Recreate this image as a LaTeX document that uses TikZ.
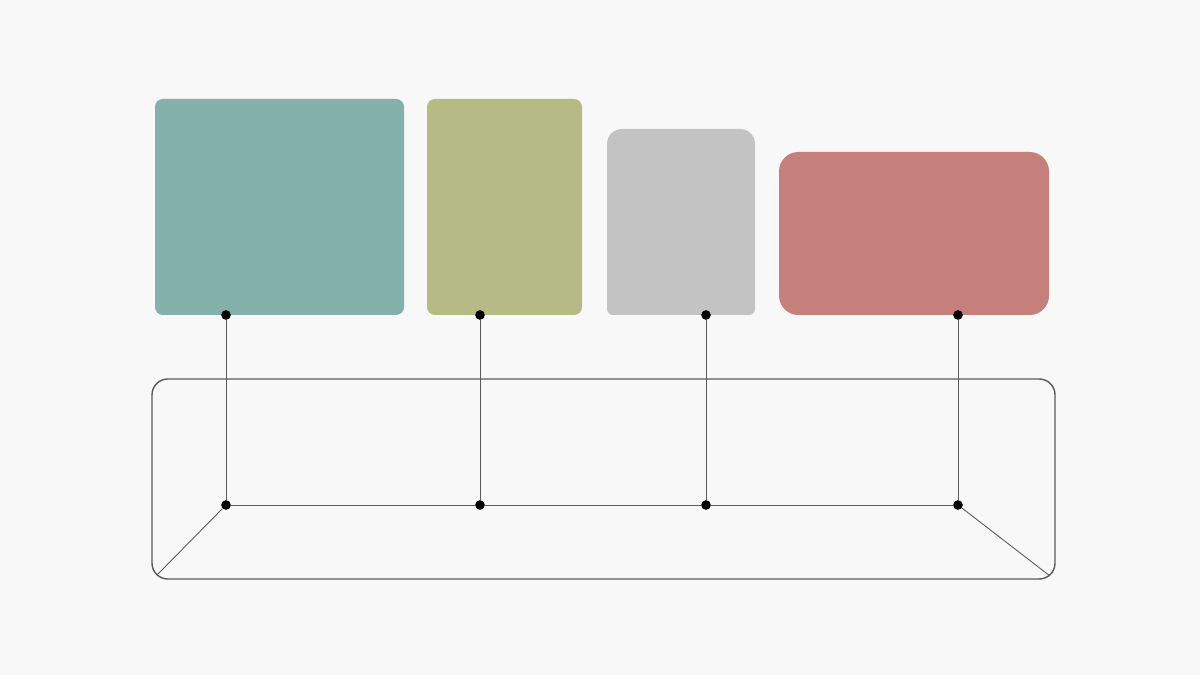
\documentclass[tikz,border=0pt]{standalone}
\usepackage{tikz}
\definecolor{bgcol}{HTML}{F8F8F8}
\definecolor{tealbox}{HTML}{85B1AB}
\definecolor{olivebox}{HTML}{B6BB86}
\definecolor{graybox}{HTML}{C3C3C3}
\definecolor{redbox}{HTML}{C6807C}
\definecolor{wire}{HTML}{5A5A5A}
\begin{document}
\begin{tikzpicture}[x=0.02cm,y=-0.02cm]
\tikzstyle{dot}=[circle,fill=black,inner sep=0pt,minimum size=5.5pt]
\tikzstyle{link}=[draw=wire,line width=0.5pt]
\fill [bgcol] (0,0) rectangle (1200,675);
\useasboundingbox (0,0) rectangle (1200,675);
\fill [tealbox,rounded corners=4.5pt] (155,99) rectangle (404,315);
\fill [olivebox,rounded corners=4.5pt] (427,99) rectangle (582,315);
\fill [graybox] (607,222) [rounded corners=8.5pt] -- (607,129) -- (755,129) [rounded corners=3.5pt] -- (755,315) -- (607,315) -- cycle;
\fill [redbox,rounded corners=11pt] (779,152) rectangle (1049,315);
\draw [draw=wire,line width=0.8pt,rounded corners=9pt] (152,379) rectangle (1055,579);
\coordinate (cl) at (157,575);
\coordinate (cr) at (1050,576);
\node [dot] (t1) at (226,315) {};
\node [dot] (t2) at (480,315) {};
\node [dot] (t3) at (706,315) {};
\node [dot] (t4) at (958,315) {};
\node [dot] (b1) at (226,505) {};
\node [dot] (b2) at (480,505) {};
\node [dot] (b3) at (706,505) {};
\node [dot] (b4) at (958,505) {};
\draw [link] (t1) -- (b1);
\draw [link] (t2) -- (b2);
\draw [link] (t3) -- (b3);
\draw [link] (t4) -- (b4);
\draw [link] (b1) -- (b2) -- (b3) -- (b4);
\draw [link] (b1) -- (cl);
\draw [link] (b4) -- (cr);
\end{tikzpicture}
\end{document}
